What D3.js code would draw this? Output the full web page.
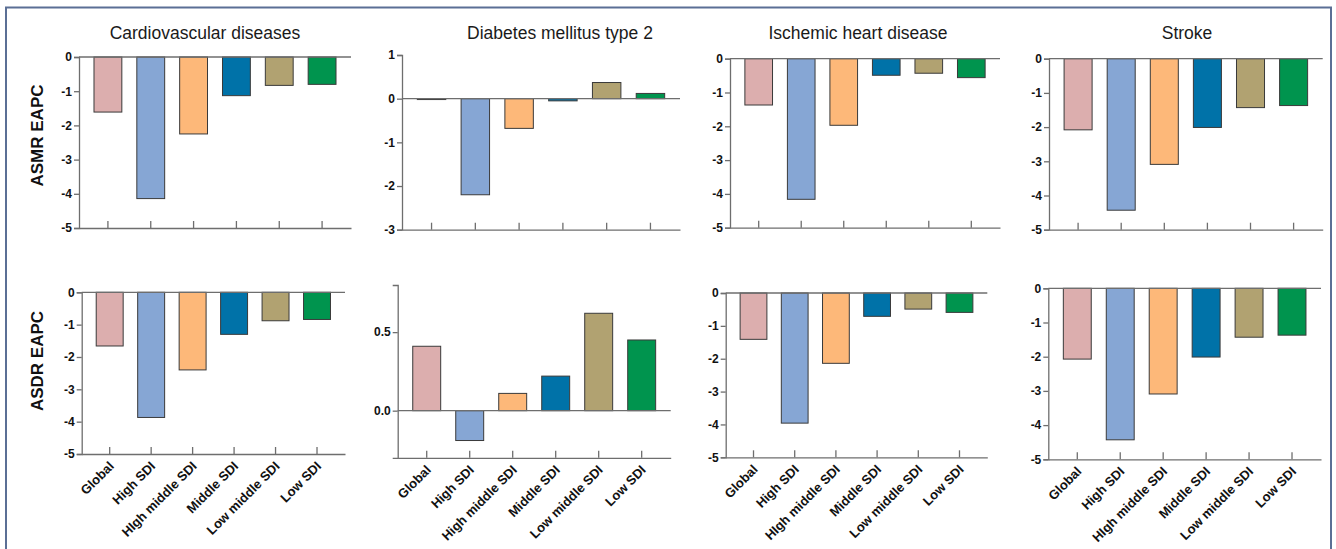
<!DOCTYPE html>
<html>
<head>
<meta charset="utf-8">
<script src="https://cdn.jsdelivr.net/npm/d3@7"></script>
<style>
  html, body { margin: 0; padding: 0; background: #fff; }
  svg { display: block; font-family: "Liberation Sans", Arial, sans-serif; }
</style>
</head>
<body>
<svg id="chart" width="1336" height="549"></svg>
<script>
// SDI groups (two spellings appear on the axes)
const categories = ["Global", "High SDI", "HIgh middle SDI", "Middle SDI", "Low middle SDI", "Low SDI"];
const categoriesDiabetes = ["Global", "High SDI", "High middle SDI", "Middle SDI", "Low middle SDI", "Low SDI"];
const causes = ["Cardiovascular diseases", "Diabetes mellitus type 2", "Ischemic heart disease", "Stroke"];
const metrics = ["ASMR EAPC", "ASDR EAPC"];
const groupColors = ["#dcaeae", "#86a6d4", "#fdb879", "#0072a8", "#b1a271", "#00944e"];

// EAPC of age-standardised mortality rate
const asmrCVD      = [-1.61, -4.14, -2.25, -1.13, -0.83, -0.80];
const asmrDiabetes = [-0.02, -2.20, -0.68, -0.05,  0.37,  0.12];
const asmrIHD      = [-1.37, -4.16, -1.97, -0.49, -0.43, -0.56];
const asmrStroke   = [-2.08, -4.43, -3.09, -2.01, -1.43, -1.37];
// EAPC of age-standardised DALY rate
const asdrCVD      = [-1.66, -3.87, -2.40, -1.30, -0.88, -0.84];
const asdrDiabetes = [ 0.41, -0.19,  0.11,  0.22,  0.62,  0.45];
const asdrIHD      = [-1.41, -3.96, -2.14, -0.71, -0.49, -0.59];
const asdrStroke   = [-2.07, -4.43, -3.09, -2.01, -1.43, -1.37];

// y domains and tick values
const domainNeg = [-5, 0];
const ticksNeg = [0, -1, -2, -3, -4, -5];
const domainDiabetesTop = [-3, 1];
const ticksDiabetesTop = [1, 0, -1, -2, -3];
const domainDiabetesBottom = [-0.3, 0.8];
const ticksDiabetesBottom = [0.0, 0.5];

// plain hyphen for negative tick labels
const hyphen = f => d => f(d).replace("\u2212", "-");
const fmtInt = hyphen(d3.format("d"));
const fmtOne = hyphen(d3.format(".1f"));

const svg = d3.select("#chart");

// outer frame
svg.append("rect")
  .attr("x", 6).attr("y", 7.5)
  .attr("width", 1325).attr("height", 560)
  .attr("fill", "none").attr("stroke", "#5b6f95").attr("stroke-width", 2);

// panel layout: plot area extents in pixels
const panels = [
  { row: 0, cause: 0, values: asmrCVD,      cats: categories,         domain: domainNeg,            ticks: ticksNeg,            fmt: fmtInt, x0: 79,    x1: 351,    yTop: 57,    yBot: 228,   titleX: 205 },
  { row: 0, cause: 1, values: asmrDiabetes, cats: categoriesDiabetes, domain: domainDiabetesTop,    ticks: ticksDiabetesTop,    fmt: fmtInt, x0: 402,   x1: 680,    yTop: 55,    yBot: 229.7, titleX: 560 },
  { row: 0, cause: 2, values: asmrIHD,      cats: categories,         domain: domainNeg,            ticks: ticksNeg,            fmt: fmtInt, x0: 730,   x1: 1000,   yTop: 58.7,  yBot: 227.7, titleX: 858 },
  { row: 0, cause: 3, values: asmrStroke,   cats: categories,         domain: domainNeg,            ticks: ticksNeg,            fmt: fmtInt, x0: 1049,  x1: 1322.7, yTop: 58.7,  yBot: 229.7, titleX: 1187 },
  { row: 1, cause: 0, values: asdrCVD,      cats: categories,         domain: domainNeg,            ticks: ticksNeg,            fmt: fmtInt, x0: 81.7,  x1: 345,    yTop: 292.3, yBot: 454 },
  { row: 1, cause: 1, values: asdrDiabetes, cats: categoriesDiabetes, domain: domainDiabetesBottom, ticks: ticksDiabetesBottom, fmt: fmtOne, x0: 397.7, x1: 670.7,  yTop: 285,   yBot: 457.8 },
  { row: 1, cause: 2, values: asdrIHD,      cats: categories,         domain: domainNeg,            ticks: ticksNeg,            fmt: fmtInt, x0: 725.7, x1: 987.3,  yTop: 293,   yBot: 457.3 },
  { row: 1, cause: 3, values: asdrStroke,   cats: categories,         domain: domainNeg,            ticks: ticksNeg,            fmt: fmtInt, x0: 1048.3, x1: 1321,  yTop: 288.3, yBot: 459.3 }
];

const axisColor = "#6e6e6e";

panels.forEach(p => {
  const g = svg.append("g");
  const x = d3.scaleBand().domain(p.cats).range([p.x0, p.x1]).paddingInner(0.35).paddingOuter(0.35);
  const y = d3.scaleLinear().domain(p.domain).range([p.yBot, p.yTop]);

  // bars
  g.selectAll("rect.bar")
    .data(p.values.map((v, i) => ({ v, c: p.cats[i], i })))
    .join("rect")
    .attr("class", "bar")
    .attr("x", d => x(d.c))
    .attr("width", x.bandwidth())
    .attr("y", d => y(Math.max(0, d.v)))
    .attr("height", d => Math.abs(y(d.v) - y(0)))
    .attr("fill", d => groupColors[d.i])
    .attr("stroke", "#3a3a3a")
    .attr("stroke-width", 1);

  // y axis
  const yAxis = d3.axisLeft(y).tickValues(p.ticks).tickFormat(p.fmt).tickSize(5).tickPadding(2);
  const ya = g.append("g").attr("transform", `translate(${p.x0},0)`).call(yAxis);
  ya.select(".domain").attr("stroke", axisColor).attr("stroke-width", 1.3);
  ya.selectAll(".tick line").attr("stroke", axisColor).attr("stroke-width", 1.3);
  ya.selectAll(".tick text")
    .attr("fill", "#111").attr("font-size", 12).attr("font-weight", "bold")
    .attr("font-family", "'Liberation Sans', Arial, sans-serif");

  // zero line
  g.append("line")
    .attr("x1", p.x0).attr("x2", p.x1)
    .attr("y1", y(0)).attr("y2", y(0))
    .attr("stroke", axisColor).attr("stroke-width", 1.3);

  // category axis at the bottom, ticks pointing up
  const xAxis = d3.axisBottom(x).tickSize(-7).tickSizeOuter(0);
  const xa = g.append("g").attr("transform", `translate(0,${p.yBot})`).call(xAxis);
  xa.select(".domain").attr("stroke", axisColor).attr("stroke-width", 1.3);
  xa.selectAll(".tick line").attr("stroke", axisColor).attr("stroke-width", 1.3);
  if (p.row === 1) {
    xa.selectAll(".tick text")
      .attr("fill", "#111").attr("font-size", 13).attr("font-weight", "bold")
      .attr("font-family", "'Liberation Sans', Arial, sans-serif")
      .attr("text-anchor", "end")
      .attr("y", 0).attr("dy", 0)
      .attr("transform", "translate(5,13) rotate(-45)");
  } else {
    xa.selectAll(".tick text").remove();
  }

  // panel title
  if (p.row === 0) {
    svg.append("text")
      .attr("x", p.titleX).attr("y", 39)
      .attr("text-anchor", "middle")
      .attr("font-size", 17.5).attr("fill", "#1a1a1a")
      .text(causes[p.cause]);
  }
});

// row labels
const rowLabelCenters = [135.5, 361];
metrics.forEach((m, i) => {
  svg.append("text")
    .attr("transform", `translate(42.5,${rowLabelCenters[i]}) rotate(-90)`)
    .attr("text-anchor", "middle")
    .attr("font-size", 17).attr("font-weight", "bold").attr("fill", "#111")
    .text(m);
});
</script>
</body>
</html>
